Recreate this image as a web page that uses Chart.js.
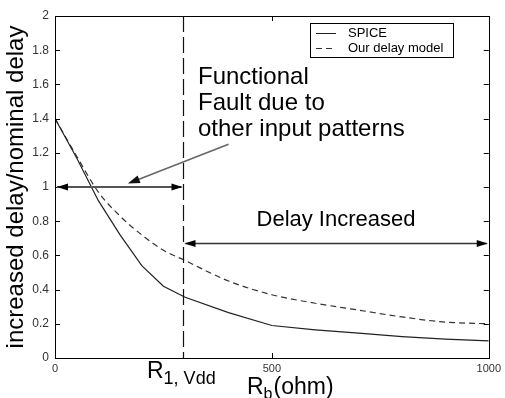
<!DOCTYPE html>
<html>
<head>
<meta charset="utf-8">
<script src="https://cdn.jsdelivr.net/npm/chart.js@4.4.1/dist/chart.umd.min.js"></script>
<style>
html, body { margin: 0; padding: 0; background: #fff; }
#wrap { width: 505px; height: 398px; }
</style>
</head>
<body>
<div id="wrap"><canvas id="c"></canvas></div>
<script>
// values
var rb = [0, 50, 100, 150, 200, 250, 300, 400, 500, 600, 700, 800, 900, 1000]
var spice = [1.40, 1.17, 0.92, 0.72, 0.54, 0.42, 0.355, 0.265, 0.19, 0.165, 0.145, 0.125, 0.11, 0.10]
var delayModel = [1.40, 1.18, 0.97, 0.83, 0.72, 0.63, 0.57, 0.45, 0.37, 0.32, 0.28, 0.24, 0.21, 0.20]
var seriesNames = ["SPICE", "Our delay model"]
var xTicks = [0, 500, 1000]
var yTicks = [0, 0.2, 0.4, 0.6, 0.8, 1, 1.2, 1.4, 1.6, 1.8, 2]
var r1Vdd = 294
var faultArrowY = 1
var delayArrowY = 0.67
var noteFrom = [400, 1.25]
var noteTo = [168, 1.02]

var FONT = "'Liberation Sans', Arial, sans-serif"

function pts(xs, ys){
    return xs.map(function(x, i){ return {x: x, y: ys[i]} })
}

function arrowHead(ctx, x1, y1, x2, y2, len, half){
    // tip at x2,y2
    var a = Math.atan2(y2 - y1, x2 - x1)
    ctx.beginPath()
    ctx.moveTo(x2, y2)
    ctx.lineTo(x2 - len * Math.cos(a) + half * Math.sin(a), y2 - len * Math.sin(a) - half * Math.cos(a))
    ctx.lineTo(x2 - len * Math.cos(a) - half * Math.sin(a), y2 - len * Math.sin(a) + half * Math.cos(a))
    ctx.closePath()
    ctx.fill()
}

var decorations = {
    id: "decorations",
    afterDatasetsDraw: function(chart){
        var ctx = chart.ctx
        var xs = chart.scales.x, ys = chart.scales.y
        var a = chart.chartArea
        ctx.save()

        // frame + inward ticks (matlab style)
        ctx.strokeStyle = "#000"
        ctx.lineWidth = 1
        ctx.strokeRect(Math.round(a.left) + 0.5, Math.round(a.top) + 0.5, Math.round(a.right - a.left), Math.round(a.bottom - a.top))
        ctx.beginPath()
        yTicks.forEach(function(v){
            var y = Math.round(ys.getPixelForValue(v)) + 0.5
            ctx.moveTo(a.left, y); ctx.lineTo(a.left + 5, y)
            ctx.moveTo(a.right, y); ctx.lineTo(a.right - 5, y)
        })
        xTicks.forEach(function(v){
            var x = Math.round(xs.getPixelForValue(v)) + 0.5
            ctx.moveTo(x, a.bottom); ctx.lineTo(x, a.bottom - 5)
            ctx.moveTo(x, a.top); ctx.lineTo(x, a.top + 5)
        })
        ctx.stroke()

        // R1,Vdd marker
        var rx = Math.round(xs.getPixelForValue(r1Vdd)) + 0.5
        ctx.setLineDash([16, 5])
        ctx.strokeStyle = "#111"
        ctx.lineWidth = 1.2
        ctx.beginPath(); ctx.moveTo(rx, a.top); ctx.lineTo(rx, a.bottom); ctx.stroke()
        ctx.setLineDash([])

        // functional fault span
        var y1 = ys.getPixelForValue(faultArrowY)
        var x0 = xs.getPixelForValue(0)
        ctx.strokeStyle = "#555"
        ctx.lineWidth = 2
        ctx.beginPath(); ctx.moveTo(x0 + 2, y1); ctx.lineTo(rx - 2, y1); ctx.stroke()
        ctx.fillStyle = "#000"
        arrowHead(ctx, rx, y1, x0 + 2, y1, 11, 3.5)
        arrowHead(ctx, x0, y1, rx - 1, y1, 11, 3.5)

        // delay increased span
        var y2 = ys.getPixelForValue(delayArrowY)
        var xe = xs.getPixelForValue(1000)
        ctx.strokeStyle = "#333"
        ctx.lineWidth = 1.5
        ctx.beginPath(); ctx.moveTo(rx + 2, y2); ctx.lineTo(xe - 2, y2); ctx.stroke()
        arrowHead(ctx, xe, y2, rx + 1, y2, 11, 3.5)
        arrowHead(ctx, rx, y2, xe - 1, y2, 11, 3.5)

        // pointer from note
        var px1 = xs.getPixelForValue(noteFrom[0]), py1 = ys.getPixelForValue(noteFrom[1])
        var px2 = xs.getPixelForValue(noteTo[0]), py2 = ys.getPixelForValue(noteTo[1])
        ctx.strokeStyle = "#666"
        ctx.lineWidth = 1.5
        ctx.beginPath(); ctx.moveTo(px1, py1); ctx.lineTo(px2 + 6, py2 - 2.4); ctx.stroke()
        ctx.fillStyle = "#111"
        arrowHead(ctx, px1, py1, px2, py2, 12, 4)

        // notes
        ctx.fillStyle = "#000"
        ctx.textAlign = "left"
        ctx.textBaseline = "alphabetic"
        ctx.font = "24px " + FONT
        ctx.fillText("Functional", 198, 84)
        ctx.fillText("Fault due to", 198, 110)
        ctx.fillText("other input patterns", 198, 136)
        ctx.font = "22px " + FONT
        ctx.textAlign = "center"
        ctx.fillText("Delay Increased", 336, 226)

        // x axis labels with subscripts
        ctx.textAlign = "left"
        ctx.font = "23px " + FONT
        ctx.fillText("R", 147, 378)
        var w = ctx.measureText("R").width
        ctx.font = "18px " + FONT
        ctx.fillText("1, Vdd", 147 + w, 384)

        ctx.font = "23px " + FONT
        ctx.fillText("R", 247, 394)
        w = ctx.measureText("R").width
        ctx.font = "16px " + FONT
        ctx.fillText("b", 247 + w, 399)
        var wb = ctx.measureText("b").width
        ctx.font = "23px " + FONT
        ctx.fillText("(ohm)", 247 + w + wb + 1, 394)

        // legend box
        var lx = 310, ly = 23, lw = 143, lh = 34
        ctx.fillStyle = "#fff"
        ctx.fillRect(lx, ly, lw, lh)
        ctx.strokeStyle = "#000"
        ctx.lineWidth = 1
        ctx.strokeRect(lx + 0.5, ly + 0.5, lw, lh)
        ctx.font = "13px " + FONT
        ctx.textBaseline = "middle"
        chart.data.datasets.forEach(function(ds, i){
            var yy = ly + 10 + i * 15
            ctx.strokeStyle = ds.borderColor
            ctx.lineWidth = 1
            ctx.setLineDash(ds.borderDash || [])
            ctx.beginPath(); ctx.moveTo(316, yy + 0.5); ctx.lineTo(336, yy + 0.5); ctx.stroke()
            ctx.setLineDash([])
            ctx.fillStyle = "#000"
            ctx.fillText(ds.label, 348, yy)
        })
        ctx.restore()
    }
}

new Chart(document.getElementById("c"), {
    type: "line",
    data: {
        datasets: [{
            label: seriesNames[0],
            data: pts(rb, spice),
            borderColor: "#222",
            borderWidth: 1.2,
            pointRadius: 0,
            tension: 0
        }, {
            label: seriesNames[1],
            data: pts(rb, delayModel),
            borderColor: "#333",
            borderWidth: 1.2,
            borderDash: [6, 4],
            pointRadius: 0,
            cubicInterpolationMode: "monotone"
        }]
    },
    options: {
        responsive: true,
        maintainAspectRatio: false,
        animation: false,
        devicePixelRatio: 1,
        layout: {padding: {top: 16, right: 16, left: 0, bottom: 0}},
        plugins: {legend: {display: false}, tooltip: {enabled: false}},
        scales: {
            x: {
                type: "linear", min: 0, max: 1000,
                afterFit: function(s){ s.height = 40 },
                afterBuildTicks: function(s){ s.ticks = xTicks.map(function(v){ return {value: v} }) },
                grid: {display: false, drawTicks: false},
                border: {display: false},
                ticks: {padding: 4, color: "#333", font: {size: 11, family: FONT}, maxRotation: 0,
                    callback: function(v){ return String(v) }}
            },
            y: {
                min: 0, max: 2,
                afterFit: function(s){ s.width = 55 },
                afterBuildTicks: function(s){ s.ticks = yTicks.map(function(v){ return {value: v} }) },
                grid: {display: false, drawTicks: false},
                border: {display: false},
                ticks: {padding: 6, color: "#333", font: {size: 12, family: FONT},
                    callback: function(v){ return String(+v.toFixed(1)) }},
                title: {display: true, text: "increased delay/nominal delay", color: "#000",
                    font: {size: 24, family: FONT}, padding: {top: 2, bottom: 0}}
            }
        }
    },
    plugins: [decorations]
})
</script>
</body>
</html>
